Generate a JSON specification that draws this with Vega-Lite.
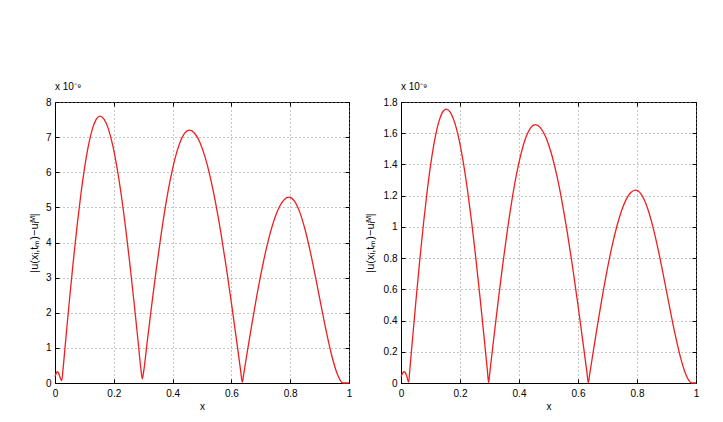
{
  "$schema": "https://vega.github.io/schema/vega-lite/v6.json",
  "autosize": {"type": "none"},
  "padding": {"left": 55, "top": 102, "right": 668, "bottom": 320},
  "background": "white",
  "bounds": "flush",
  "spacing": 52,
  "config": {
    "font": "Liberation Sans",
    "view": {"stroke": "black", "strokeWidth": 1},
    "axis": {
      "labelFont": "Liberation Sans", "labelFontSize": 10, "labelColor": "black",
      "titleFont": "Liberation Sans", "titleFontSize": 11, "titleFontWeight": "normal", "titleColor": "black",
      "domainColor": "black", "tickColor": "black",
      "gridColor": "#8a8a8a", "gridDash": [1, 3], "gridOpacity": 1, "gridWidth": 1
    }
  },
  "datasets": {
    "left": [
      {"x": 0, "v": 0.18}, {"x": 0.004, "v": 0.28}, {"x": 0.008, "v": 0.32}, {"x": 0.012, "v": 0.28},
      {"x": 0.016, "v": 0.19}, {"x": 0.02, "v": 0.1}, {"x": 0.023, "v": 0.07}, {"x": 0.0269, "v": 0.36},
      {"x": 0.036, "v": 1.189}, {"x": 0.049, "v": 2.348}, {"x": 0.062, "v": 3.45}, {"x": 0.075, "v": 4.467},
      {"x": 0.088, "v": 5.374}, {"x": 0.101, "v": 6.148}, {"x": 0.114, "v": 6.772}, {"x": 0.127, "v": 7.228},
      {"x": 0.14, "v": 7.507}, {"x": 0.153, "v": 7.6}, {"x": 0.1674, "v": 7.507}, {"x": 0.1818, "v": 7.228},
      {"x": 0.1962, "v": 6.772}, {"x": 0.2106, "v": 6.148}, {"x": 0.225, "v": 5.374}, {"x": 0.2394, "v": 4.467},
      {"x": 0.2538, "v": 3.45}, {"x": 0.2682, "v": 2.348}, {"x": 0.2826, "v": 1.189}, {"x": 0.2927, "v": 0.36},
      {"x": 0.297, "v": 0.12}, {"x": 0.3018, "v": 0.34}, {"x": 0.313, "v": 1.126}, {"x": 0.329, "v": 2.225},
      {"x": 0.345, "v": 3.269}, {"x": 0.361, "v": 4.232}, {"x": 0.377, "v": 5.091}, {"x": 0.393, "v": 5.825},
      {"x": 0.409, "v": 6.415}, {"x": 0.425, "v": 6.848}, {"x": 0.441, "v": 7.111}, {"x": 0.457, "v": 7.2},
      {"x": 0.475, "v": 7.111}, {"x": 0.493, "v": 6.848}, {"x": 0.511, "v": 6.415}, {"x": 0.529, "v": 5.825},
      {"x": 0.547, "v": 5.091}, {"x": 0.565, "v": 4.232}, {"x": 0.583, "v": 3.269}, {"x": 0.601, "v": 2.225},
      {"x": 0.619, "v": 1.126}, {"x": 0.6316, "v": 0.34}, {"x": 0.637, "v": 0.02}, {"x": 0.6418, "v": 0.25},
      {"x": 0.6529, "v": 0.827}, {"x": 0.6688, "v": 1.635}, {"x": 0.6847, "v": 2.402}, {"x": 0.7006, "v": 3.109},
      {"x": 0.7165, "v": 3.741}, {"x": 0.7324, "v": 4.28}, {"x": 0.7483, "v": 4.713}, {"x": 0.7642, "v": 5.031},
      {"x": 0.7801, "v": 5.225}, {"x": 0.796, "v": 5.29}, {"x": 0.8144, "v": 5.18}, {"x": 0.8328, "v": 4.857},
      {"x": 0.8512, "v": 4.348}, {"x": 0.8696, "v": 3.689}, {"x": 0.888, "v": 2.935}, {"x": 0.9064, "v": 2.144},
      {"x": 0.9248, "v": 1.382}, {"x": 0.9432, "v": 0.718}, {"x": 0.9616, "v": 0.226}, {"x": 0.9708, "v": 0.07},
      {"x": 0.98, "v": 0.0}, {"x": 1.0, "v": 0.0}
    ],
    "right": [
      {"x": 0, "v": 0.04}, {"x": 0.005, "v": 0.062}, {"x": 0.01, "v": 0.072}, {"x": 0.015, "v": 0.065},
      {"x": 0.02, "v": 0.04}, {"x": 0.026, "v": 0.005}, {"x": 0.0298, "v": 0.083}, {"x": 0.0387, "v": 0.2745},
      {"x": 0.0514, "v": 0.5423}, {"x": 0.0641, "v": 0.7968}, {"x": 0.0768, "v": 1.0316}, {"x": 0.0895, "v": 1.241},
      {"x": 0.1022, "v": 1.4198}, {"x": 0.1149, "v": 1.5637}, {"x": 0.1276, "v": 1.6692}, {"x": 0.1403, "v": 1.7334},
      {"x": 0.153, "v": 1.755}, {"x": 0.1674, "v": 1.7334}, {"x": 0.1818, "v": 1.6692}, {"x": 0.1962, "v": 1.5637},
      {"x": 0.2106, "v": 1.4198}, {"x": 0.225, "v": 1.241}, {"x": 0.2394, "v": 1.0316}, {"x": 0.2538, "v": 0.7968},
      {"x": 0.2682, "v": 0.5423}, {"x": 0.2826, "v": 0.2745}, {"x": 0.2927, "v": 0.083}, {"x": 0.297, "v": 0.003},
      {"x": 0.3017, "v": 0.078}, {"x": 0.3128, "v": 0.2588}, {"x": 0.3286, "v": 0.5114}, {"x": 0.3444, "v": 0.7514},
      {"x": 0.3602, "v": 0.9728}, {"x": 0.376, "v": 1.1703}, {"x": 0.3918, "v": 1.3389}, {"x": 0.4076, "v": 1.4746},
      {"x": 0.4234, "v": 1.5741}, {"x": 0.4392, "v": 1.6346}, {"x": 0.455, "v": 1.655}, {"x": 0.473, "v": 1.6346},
      {"x": 0.491, "v": 1.5741}, {"x": 0.509, "v": 1.4746}, {"x": 0.527, "v": 1.3389}, {"x": 0.545, "v": 1.1703},
      {"x": 0.563, "v": 0.9728}, {"x": 0.581, "v": 0.7514}, {"x": 0.599, "v": 0.5114}, {"x": 0.617, "v": 0.2588},
      {"x": 0.6296, "v": 0.078}, {"x": 0.635, "v": 0.002}, {"x": 0.6398, "v": 0.058}, {"x": 0.651, "v": 0.1932},
      {"x": 0.667, "v": 0.3816}, {"x": 0.683, "v": 0.5607}, {"x": 0.699, "v": 0.7259}, {"x": 0.715, "v": 0.8733},
      {"x": 0.731, "v": 0.9991}, {"x": 0.747, "v": 1.1004}, {"x": 0.763, "v": 1.1746}, {"x": 0.779, "v": 1.2198},
      {"x": 0.795, "v": 1.235}, {"x": 0.814, "v": 1.2093}, {"x": 0.833, "v": 1.134}, {"x": 0.852, "v": 1.015},
      {"x": 0.871, "v": 0.8613}, {"x": 0.89, "v": 0.6852}, {"x": 0.909, "v": 0.5005}, {"x": 0.928, "v": 0.3226},
      {"x": 0.947, "v": 0.1677}, {"x": 0.966, "v": 0.0527}, {"x": 0.9755, "v": 0.0163}, {"x": 0.985, "v": 0.0},
      {"x": 1.0, "v": 0.0}
    ]
  },
  "hconcat": [
    {
      "width": 294, "height": 281,
      "data": {"name": "left"},
      "title": {"text": "x 10⁻⁹", "anchor": "start", "frame": "group", "fontSize": 10, "fontWeight": "normal", "offset": 5, "color": "black", "font": "Liberation Sans"},
      "layer": [
        {
          "mark": {"type": "line", "color": "#f01e1e", "strokeWidth": 1.3, "interpolate": "monotone"},
          "encoding": {
            "x": {"field": "x", "type": "quantitative", "scale": {"domain": [0, 1], "nice": false},
                  "axis": {"values": [0, 0.2, 0.4, 0.6, 0.8, 1], "format": ".1~f", "title": "x", "titleFontSize": 10, "grid": true, "ticks": false, "tickSize": 0, "labelPadding": 5, "titlePadding": 3, "labelFlush": false}},
            "y": {"field": "v", "type": "quantitative", "scale": {"domain": [0, 8], "nice": false},
                  "axis": {"values": [0, 1, 2, 3, 4, 5, 6, 7, 8], "title": "|u(xᵢ,tₘ)−uᵢᴹ|", "grid": true, "ticks": false, "tickSize": 0, "labelPadding": 4, "titlePadding": 6, "labelFlush": false}}
          }
        },
        {
          "mark": {"type": "line", "strokeOpacity": 0},
          "encoding": {
            "x": {"field": "x", "type": "quantitative", "axis": {"orient": "top", "values": [0, 0.2, 0.4, 0.6, 0.8, 1], "labels": false, "title": null, "grid": false, "domain": false, "ticks": true, "tickSize": -4}},
            "y": {"field": "v", "type": "quantitative", "axis": {"orient": "right", "values": [0, 1, 2, 3, 4, 5, 6, 7, 8], "labels": false, "title": null, "grid": false, "domain": false, "ticks": true, "tickSize": -4}}
          }
        },
        {
          "mark": {"type": "line", "strokeOpacity": 0},
          "encoding": {
            "x": {"field": "x", "type": "quantitative", "axis": {"orient": "bottom", "values": [0, 0.2, 0.4, 0.6, 0.8, 1], "labels": false, "title": null, "grid": false, "domain": false, "ticks": true, "tickSize": -4}},
            "y": {"field": "v", "type": "quantitative", "axis": {"orient": "left", "values": [0, 1, 2, 3, 4, 5, 6, 7, 8], "labels": false, "title": null, "grid": false, "domain": false, "ticks": true, "tickSize": -4}}
          }
        }
      ],
      "resolve": {"axis": {"x": "independent", "y": "independent"}}
    },
    {
      "width": 295, "height": 281,
      "data": {"name": "right"},
      "title": {"text": "x 10⁻⁹", "anchor": "start", "frame": "group", "fontSize": 10, "fontWeight": "normal", "offset": 5, "color": "black", "font": "Liberation Sans"},
      "layer": [
        {
          "mark": {"type": "line", "color": "#f01e1e", "strokeWidth": 1.3, "interpolate": "monotone"},
          "encoding": {
            "x": {"field": "x", "type": "quantitative", "scale": {"domain": [0, 1], "nice": false},
                  "axis": {"values": [0, 0.2, 0.4, 0.6, 0.8, 1], "format": ".1~f", "title": "x", "titleFontSize": 10, "grid": true, "ticks": false, "tickSize": 0, "labelPadding": 5, "titlePadding": 3, "labelFlush": false}},
            "y": {"field": "v", "type": "quantitative", "scale": {"domain": [0, 1.8], "nice": false},
                  "axis": {"values": [0, 0.2, 0.4, 0.6, 0.8, 1, 1.2, 1.4, 1.6, 1.8], "format": ".1~f", "title": "|u(xᵢ,tₘ)−uᵢᴹ|", "grid": true, "ticks": false, "tickSize": 0, "labelPadding": 4, "titlePadding": 8, "labelFlush": false}}
          }
        },
        {
          "mark": {"type": "line", "strokeOpacity": 0},
          "encoding": {
            "x": {"field": "x", "type": "quantitative", "axis": {"orient": "top", "values": [0, 0.2, 0.4, 0.6, 0.8, 1], "labels": false, "title": null, "grid": false, "domain": false, "ticks": true, "tickSize": -4}},
            "y": {"field": "v", "type": "quantitative", "axis": {"orient": "right", "values": [0, 0.2, 0.4, 0.6, 0.8, 1, 1.2, 1.4, 1.6, 1.8], "labels": false, "title": null, "grid": false, "domain": false, "ticks": true, "tickSize": -4}}
          }
        },
        {
          "mark": {"type": "line", "strokeOpacity": 0},
          "encoding": {
            "x": {"field": "x", "type": "quantitative", "axis": {"orient": "bottom", "values": [0, 0.2, 0.4, 0.6, 0.8, 1], "labels": false, "title": null, "grid": false, "domain": false, "ticks": true, "tickSize": -4}},
            "y": {"field": "v", "type": "quantitative", "axis": {"orient": "left", "values": [0, 0.2, 0.4, 0.6, 0.8, 1, 1.2, 1.4, 1.6, 1.8], "labels": false, "title": null, "grid": false, "domain": false, "ticks": true, "tickSize": -4}}
          }
        }
      ],
      "resolve": {"axis": {"x": "independent", "y": "independent"}}
    }
  ]
}
